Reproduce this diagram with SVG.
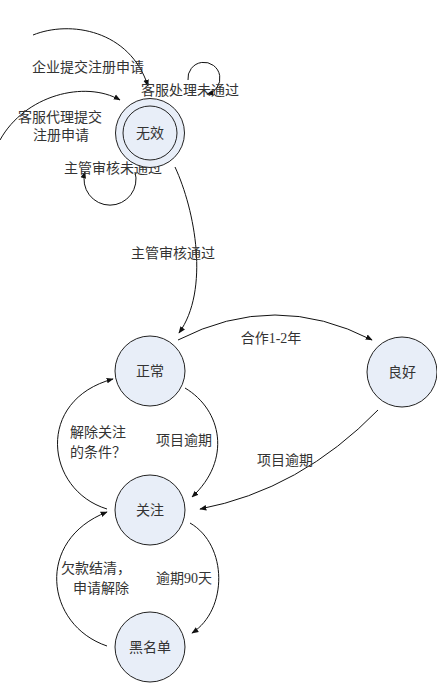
<svg xmlns="http://www.w3.org/2000/svg" width="437" height="683" viewBox="0 0 437 683">
<defs>
<style>
.node{fill:#e8eef8;stroke:#222;stroke-width:1}
.edge{fill:none;stroke:#111;stroke-width:1;marker-end:url(#arr)}
text{font-family:"Liberation Serif","Noto Sans CJK SC",serif;font-size:14px;fill:#333}
.c{text-anchor:middle}
</style>
<marker id="arr" viewBox="0 0 10 10" refX="9" refY="5" markerWidth="7" markerHeight="7" markerUnits="userSpaceOnUse" orient="auto">
<path d="M0,1 L10,5 L0,9 z" fill="#111"/>
</marker>
</defs>
<rect width="437" height="683" fill="#fff"/>
<g id="connectors">
<path class="edge" d="M33,35 C70,20 130,30 148,86"/>
<path class="edge" d="M0,140 C25,95 85,80 120,100"/>
<path class="edge" d="M188,80 A16,16 0 1 1 207,94"/>
<path class="edge" d="M135,172 A26,26 0 1 1 85,172"/>
<path class="edge" d="M175,167 C195,210 210,290 179,333"/>
<path class="edge" d="M178,340 Q275,290 372,340"/>
<path class="edge" d="M378,410 Q300,490 200,509"/>
<path class="edge" d="M185,388 C222,410 232,460 192,497"/>
<path class="edge" d="M107,509 C45,490 35,400 113,379"/>
<path class="edge" d="M190,523 C228,545 228,610 192,633"/>
<path class="edge" d="M107,646 C45,625 35,540 107,512"/>
</g>
<g id="labels">
<text x="32" y="72">企业提交注册申请</text>
<text x="141" y="95">客服处理未通过</text>
<text x="60" y="122" class="c">客服代理提交</text>
<text x="61" y="140" class="c">注册申请</text>
<text x="113" y="173" class="c">主管审核未通过</text>
<text x="173" y="258" class="c">主管审核通过</text>
<text x="271" y="343" class="c">合作1-2年</text>
<text x="98" y="437" class="c">解除关注</text>
<text x="98" y="457" class="c">的条件？</text>
<text x="184" y="445" class="c">项目逾期</text>
<text x="285" y="465" class="c">项目逾期</text>
<text x="96" y="573" class="c">欠款结清，</text>
<text x="101" y="593" class="c">申请解除</text>
<text x="184" y="583" class="c">逾期90天</text>
</g>
<g id="n-wuxiao">
<circle class="node" cx="150" cy="133" r="34.5"/>
<circle class="node" cx="150" cy="133" r="27"/>
<text x="150" y="138" class="c">无效</text>
</g>
<g id="n-zhengchang">
<circle class="node" cx="150" cy="371" r="35"/>
<text x="150" y="376" class="c">正常</text>
</g>
<g id="n-lianghao">
<circle class="node" cx="402" cy="372" r="35"/>
<text x="402" y="377" class="c">良好</text>
</g>
<g id="n-guanzhu">
<circle class="node" cx="150" cy="510" r="35"/>
<text x="150" y="515" class="c">关注</text>
</g>
<g id="n-heimingdan">
<circle class="node" cx="150" cy="647" r="35"/>
<text x="150" y="652" class="c">黑名单</text>
</g>
</svg>
